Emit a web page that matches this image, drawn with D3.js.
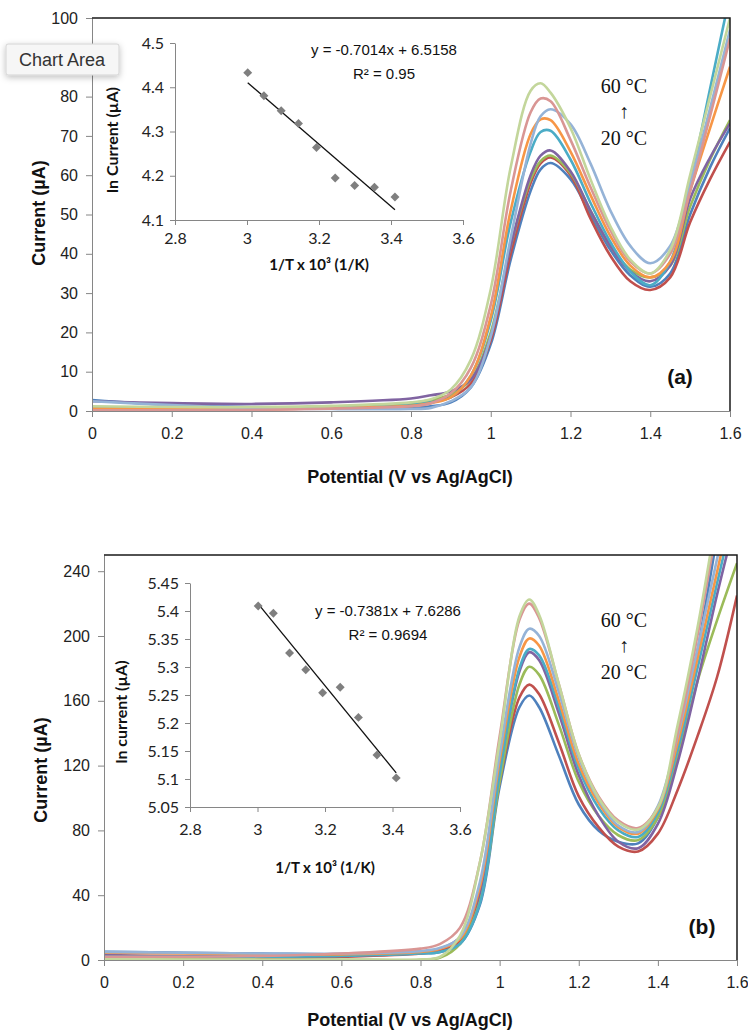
<!DOCTYPE html>
<html lang="en">
<head>
<meta charset="UTF-8">
<title>Voltammograms vs temperature</title>
<script src="https://cdn.jsdelivr.net/npm/d3@7"></script>
<style>
  body { margin: 0; background: #fff; }
  svg { display: block; }
</style>
</head>
<body>
<script>
    // ---- data ----
    // temperatures 20 -> 60 °C, Excel palette order
    var temps = ["20 °C", "25 °C", "30 °C", "35 °C", "40 °C", "45 °C", "50 °C", "55 °C", "60 °C"];
    var colors = ["#4F81BD", "#C0504D", "#9BBB59", "#8064A2", "#4BACC6", "#F79646", "#95B3D7", "#D99694", "#C3D69B"];

    // panel (a)
    var potA = [0, 0.2, 0.4, 0.6, 0.8, 0.85, 0.9, 0.95, 1.0, 1.05, 1.1, 1.125, 1.15, 1.2, 1.25, 1.3, 1.35, 1.4, 1.45, 1.5, 1.55, 1.6];
    var a20 = [2.8, 1.5, 1.0, 0.8, 0.8, 1.2, 2.2, 6, 17, 38.5, 56, 61.5, 63.1, 59, 50, 41, 34.5, 31.6, 35, 50, 62, 72];
    var a25 = [0.3, 0.3, 0.4, 0.8, 1.6, 2.4, 3.5, 7, 18, 40, 58, 63, 64.5, 60, 49, 39.5, 33, 30.8, 34, 48, 59, 68.5];
    var a30 = [1.0, 0.8, 0.8, 1.0, 2.0, 2.8, 4.2, 8, 20, 42, 59, 63.6, 65, 60.5, 51, 42, 36, 34, 37, 52, 64, 74];
    var a35 = [2.5, 2.0, 1.8, 2.2, 3.2, 4.0, 5, 8, 19, 42, 60, 65, 66.3, 61, 51, 42, 35.5, 33, 37, 54, 64.5, 73.2];
    var a40 = [0.8, 0.6, 0.6, 0.8, 1.5, 2.2, 3.5, 9, 23, 48, 66, 71, 71.3, 64, 53, 43, 35.5, 32, 38, 58, 82, 106];
    var a45 = [0.6, 0.5, 0.5, 0.7, 1.3, 2.0, 3.5, 9, 24, 51, 70.5, 74.2, 74, 66, 55, 44.5, 37, 34, 38, 56, 72, 87.6];
    var a50 = [2.5, 1.5, 0.8, 0.5, 0.5, 0.8, 2.5, 6, 19, 44, 68, 75, 76.8, 73, 63, 51, 42, 37.6, 42, 58, 77, 97];
    var a55 = [0.2, 0.2, 0.3, 0.6, 1.2, 2.0, 4.5, 11, 27, 56, 76, 79.5, 78.8, 69, 57, 46, 38, 35, 40, 56, 75, 94.8];
    var a60 = [1.2, 1.0, 1.0, 1.3, 2.2, 3.0, 5.5, 13, 31, 62, 81.5, 83.4, 81, 72, 59, 47, 38.5, 35, 41, 60, 80, 100];

    // panel (b)
    var potB = [0, 0.2, 0.4, 0.6, 0.8, 0.85, 0.9, 0.95, 1.0, 1.05, 1.075, 1.1, 1.15, 1.2, 1.25, 1.3, 1.35, 1.4, 1.45, 1.5, 1.55, 1.6];
    var b20 = [5, 4.5, 4, 3.5, 4, 5, 10, 34, 107, 156, 163.3, 156, 126, 96, 80, 73, 72, 88, 125, 190, 262, 330];
    var b25 = [1.5, 1.5, 1.5, 2, 4, 6, 12, 38, 110, 162, 170, 164, 134, 101, 82, 70, 67, 78, 105, 138, 175, 225];
    var b30 = [0.5, 0.3, 0.2, 0.2, 0.2, 1.5, 10, 36, 110, 170, 181, 176, 145, 110, 89, 77, 74, 88, 125, 172, 210, 245];
    var b35 = [3, 2.5, 2.5, 3, 5, 7, 14, 42, 118, 178, 190, 185, 152, 114, 89, 73, 69, 84, 122, 172, 226, 275];
    var b40 = [2, 2, 2, 2.5, 4, 5, 10, 35, 115, 180, 192, 188, 156, 118, 94, 80, 76, 91, 130, 180, 233, 285];
    var b45 = [4.5, 4, 3.5, 3.5, 5, 7, 13, 45, 123, 187, 198.5, 194, 160, 121, 97, 82, 78, 93, 134, 186, 240, 295];
    var b50 = [5, 4.5, 4, 4, 5.5, 7.5, 14, 48, 127, 193, 204.5, 200, 165, 125, 99, 83, 79, 95, 138, 192, 248, 305];
    var b55 = [2, 2, 2.5, 4, 7, 10, 20, 60, 138, 210, 220, 211, 170, 127, 101, 86, 81.5, 94, 140, 200, 268, 330];
    var b60 = [0.5, 0.3, 0.2, 0.2, 0.3, 2, 15, 60, 135, 212, 222.5, 213, 170, 127, 100, 85, 80.5, 94, 145, 205, 275, 340];

    // Arrhenius insets: 1/T x 10^3 and ln(peak current)
    var invT = [3.002, 3.047, 3.095, 3.143, 3.193, 3.245, 3.299, 3.354, 3.411];
    var lnA = [4.433, 4.381, 4.347, 4.318, 4.264, 4.195, 4.178, 4.174, 4.152];
    var lnB = [5.409, 5.396, 5.325, 5.295, 5.254, 5.264, 5.21, 5.143, 5.102];
    var fitA = { slope: -0.7014, intercept: 6.5158, eq: "y = -0.7014x + 6.5158", r2: "R² = 0.95" };
    var fitB = { slope: -0.7381, intercept: 7.6286, eq: "y = -0.7381x + 7.6286", r2: "R² = 0.9694" };

    var potTicks = [0, 0.2, 0.4, 0.6, 0.8, 1, 1.2, 1.4, 1.6];
    var yTicksA = [0, 10, 20, 30, 40, 50, 60, 70, 80, 90, 100];
    var yTicksB = [0, 40, 80, 120, 160, 200, 240];
    var invTTicks = [2.8, 3, 3.2, 3.4, 3.6];
    var lnTicksA = [4.1, 4.2, 4.3, 4.4, 4.5];
    var lnTicksB = [5.05, 5.1, 5.15, 5.2, 5.25, 5.3, 5.35, 5.4, 5.45];

    var mainFont = "'Liberation Sans', Arial, sans-serif";
    var insetFont = "Lato, 'Open Sans', sans-serif";
    var serifFont = "'Liberation Serif', 'Times New Roman', serif";
    var axisGray = "#868686";

    var svg = d3.select('body')
        .append('svg')
        .attr('width', 748)
        .attr('height', 1030);

    var defs = svg.append('defs');

    function styleAxis(g, font, size, color) {
        g.select('.domain').attr('stroke', axisGray).attr('stroke-width', 1);
        g.selectAll('.tick line').attr('stroke', axisGray);
        g.selectAll('.tick text')
            .attr('fill', color)
            .style('font-family', font)
            .style('font-size', size + 'px');
    }

    // main voltammogram panel
    function drawPanel(cfg) {
        var x = d3.scaleLinear().domain([0, 1.6]).range([cfg.left, cfg.right]);
        var y = d3.scaleLinear().domain([0, cfg.ymax]).range([cfg.bottom, cfg.top]);

        defs.append('clipPath').attr('id', cfg.id)
            .append('rect')
            .attr('x', cfg.left).attr('y', cfg.top)
            .attr('width', cfg.right - cfg.left).attr('height', cfg.bottom - cfg.top);

        // curves
        var line = d3.line()
            .x(function (d, i) { return x(cfg.pot[i]); })
            .y(function (d) { return y(d); })
            .curve(d3.curveCatmullRom.alpha(0.5));

        svg.append('g')
            .attr('clip-path', 'url(#' + cfg.id + ')')
            .selectAll('path')
            .data(cfg.series)
            .enter()
            .append('path')
            .attr('d', function (d) { return line(d); })
            .attr('fill', 'none')
            .attr('stroke', function (d, i) { return colors[i]; })
            .attr('stroke-width', 2.6)
            .attr('stroke-linejoin', 'round');

        // axes
        var gy = svg.append('g')
            .attr('transform', 'translate(' + cfg.left + ',0)')
            .call(d3.axisLeft(y).tickValues(cfg.yticks).tickSize(6).tickSizeOuter(0).tickPadding(8)
                .tickFormat(d3.format('d')));
        styleAxis(gy, mainFont, 16, '#222');
        // labels that sit under the hover tooltip are not visible in the source
        gy.selectAll('.tick text')
            .filter(function (d) { return cfg.hidden.indexOf(d) >= 0; })
            .remove();

        var gx = svg.append('g')
            .attr('transform', 'translate(0,' + cfg.bottom + ')')
            .call(d3.axisBottom(x).tickValues(potTicks).tickSize(6).tickSizeOuter(0).tickPadding(cfg.xpad)
                .tickFormat(function (d) { return String(d); }));
        styleAxis(gx, mainFont, 16, '#222');

        // plot-area frame (top / right)
        svg.append('path')
            .attr('d', 'M' + cfg.left + ',' + cfg.top + 'H' + cfg.right + 'V' + cfg.bottom)
            .attr('fill', 'none')
            .attr('stroke', '#1a1a1a')
            .attr('stroke-width', 1.5);

        // axis titles
        svg.append('text')
            .attr('x', 410).attr('y', cfg.xTitleY)
            .attr('text-anchor', 'middle')
            .style('font-family', mainFont).style('font-size', '18px').style('font-weight', 'bold')
            .attr('fill', '#111')
            .text('Potential (V vs Ag/AgCl)');

        svg.append('text')
            .attr('transform', 'translate(' + cfg.yTitleX + ',' + cfg.yTitleY + ') rotate(-90)')
            .attr('text-anchor', 'middle')
            .style('font-family', mainFont).style('font-size', '18px').style('font-weight', 'bold')
            .attr('fill', '#111')
            .text('Current (µA)');

        // temperature annotation
        var ann = svg.append('g')
            .style('font-family', serifFont).style('font-size', '20px')
            .attr('fill', '#111').attr('text-anchor', 'middle');
        ann.append('text').attr('x', 624).attr('y', cfg.annY).text(temps[8]);
        ann.append('text').attr('x', 624).attr('y', cfg.annY + 25).text('↑');
        ann.append('text').attr('x', 624).attr('y', cfg.annY + 52).text(temps[0]);

        // panel letter
        svg.append('text')
            .attr('x', cfg.letterX).attr('y', cfg.letterY)
            .attr('text-anchor', 'middle')
            .style('font-family', mainFont).style('font-size', '21px').style('font-weight', 'bold')
            .attr('fill', '#111')
            .text(cfg.letter);
    }

    // Arrhenius inset
    function drawInset(cfg) {
        var x = d3.scaleLinear().domain([2.8, 3.6]).range([cfg.left, cfg.right]);
        var y = d3.scaleLinear().domain([cfg.ymin, cfg.ymax]).range([cfg.bottom, cfg.top]);

        var gy = svg.append('g')
            .attr('transform', 'translate(' + cfg.left + ',0)')
            .call(d3.axisLeft(y).tickValues(cfg.yticks).tickSize(5).tickSizeOuter(0).tickPadding(6)
                .tickFormat(function (d) { return String(d); }));
        styleAxis(gy, insetFont, 16, '#222');

        var gx = svg.append('g')
            .attr('transform', 'translate(0,' + cfg.bottom + ')')
            .call(d3.axisBottom(x).tickValues(invTTicks).tickSize(5).tickSizeOuter(0).tickPadding(cfg.xpad)
                .tickFormat(function (d) { return String(d); }));
        styleAxis(gx, insetFont, 16, '#222');

        // linear trendline over data range
        var x0 = d3.min(invT), x1 = d3.max(invT);
        svg.append('line')
            .attr('x1', x(x0)).attr('y1', y(cfg.fit.slope * x0 + cfg.fit.intercept))
            .attr('x2', x(x1)).attr('y2', y(cfg.fit.slope * x1 + cfg.fit.intercept))
            .attr('stroke', '#111')
            .attr('stroke-width', 1.3);

        // diamond markers
        svg.append('g')
            .selectAll('path')
            .data(cfg.values)
            .enter()
            .append('path')
            .attr('d', d3.symbol().type(d3.symbolSquare).size(40))
            .attr('transform', function (d, i) {
                return 'translate(' + x(invT[i]) + ',' + y(d) + ') rotate(45)';
            })
            .attr('fill', '#7f7f7f');

        // equation
        var eq = svg.append('g')
            .style('font-family', mainFont).style('font-size', '15px')
            .attr('fill', '#111').attr('text-anchor', 'middle');
        eq.append('text').attr('x', cfg.eqX).attr('y', cfg.eqY).text(cfg.fit.eq);
        eq.append('text').attr('x', cfg.eqX).attr('y', cfg.eqY + 24).text(cfg.fit.r2);

        // titles
        svg.append('text')
            .attr('x', (cfg.left + cfg.right) / 2).attr('y', cfg.xTitleY)
            .attr('text-anchor', 'middle')
            .style('font-family', insetFont).style('font-size', '15px').style('font-weight', 'bold')
            .attr('fill', '#111')
            .text('1/T x 10³ (1/K)');

        svg.append('text')
            .attr('transform', 'translate(' + cfg.yTitleX + ',' + cfg.yTitleY + ') rotate(-90)')
            .attr('text-anchor', 'middle')
            .style('font-family', insetFont).style('font-size', '16px').style('font-weight', 'bold')
            .attr('fill', '#111')
            .text(cfg.yTitle);
    }

    drawPanel({
        id: 'clipA', left: 92, right: 730, top: 18, bottom: 411, ymax: 100,
        pot: potA, series: [a20, a25, a30, a35, a40, a45, a50, a55, a60],
        yticks: yTicksA, hidden: [90], xpad: 11, xTitleY: 483, yTitleX: 45, yTitleY: 213,
        annY: 93, letter: '(a)', letterX: 680, letterY: 384
    });

    drawPanel({
        id: 'clipB', left: 104, right: 737, top: 555, bottom: 960, ymax: 250,
        pot: potB, series: [b20, b25, b30, b35, b40, b45, b50, b55, b60],
        yticks: yTicksB, hidden: [], xpad: 11, xTitleY: 1026, yTitleX: 47, yTitleY: 770,
        annY: 627, letter: '(b)', letterX: 702, letterY: 934
    });

    drawInset({
        left: 175, right: 463, top: 43, bottom: 220, ymin: 4.1, ymax: 4.5,
        yticks: lnTicksA, values: lnA, fit: fitA, xpad: 8,
        eqX: 384, eqY: 55, xTitleY: 270, yTitleX: 118, yTitleY: 140,
        yTitle: 'ln Current (µA)'
    });

    drawInset({
        left: 190, right: 460, top: 583, bottom: 807, ymin: 5.05, ymax: 5.45,
        yticks: lnTicksB, values: lnB, fit: fitB, xpad: 12,
        eqX: 388, eqY: 616, xTitleY: 873, yTitleX: 127, yTitleY: 712,
        yTitle: 'ln current (µA)'
    });

    // Excel "Chart Area" hover tooltip
    var shadow = defs.append('filter').attr('id', 'tipShadow')
        .attr('x', '-20%').attr('y', '-40%').attr('width', '140%').attr('height', '180%');
    shadow.append('feDropShadow')
        .attr('dx', 0).attr('dy', 2).attr('stdDeviation', 3)
        .attr('flood-color', '#000').attr('flood-opacity', 0.25);

    var tip = svg.append('g');
    tip.append('rect')
        .attr('x', 6).attr('y', 44).attr('width', 113).attr('height', 31)
        .attr('rx', 2)
        .attr('fill', '#f6f6f6')
        .attr('stroke', '#d4d4d4')
        .attr('filter', 'url(#tipShadow)');
    tip.append('text')
        .attr('x', 62).attr('y', 66)
        .attr('text-anchor', 'middle')
        .style('font-family', mainFont).style('font-size', '18px')
        .attr('fill', '#333')
        .text('Chart Area');
</script>
</body>
</html>
